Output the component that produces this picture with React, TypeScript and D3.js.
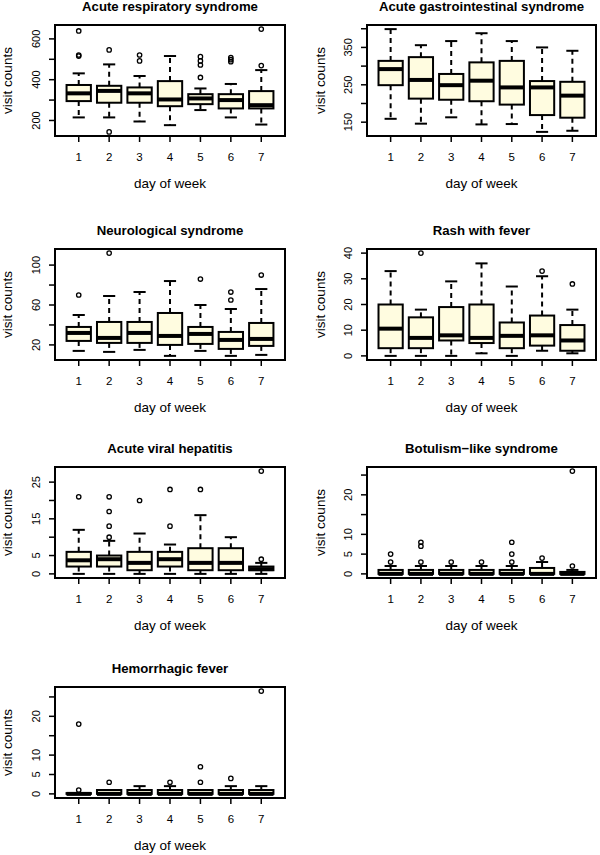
import React from "react";
import * as d3 from "d3";

// ---- data: [lower whisker, Q1, median, Q3, upper whisker] per day ----
const days = [1, 2, 3, 4, 5, 6, 7];
const titles = [
  "Acute respiratory syndrome",
  "Acute gastrointestinal syndrome",
  "Neurological syndrome",
  "Rash with fever",
  "Acute viral hepatitis",
  "Botulism\u2212like syndrome",
  "Hemorrhagic fever",
];

const respStats = [[215, 295, 333, 374, 431], [215, 287, 345, 370, 475], [195, 287, 333, 362, 418], [177, 270, 303, 393, 516], [251, 280, 308, 329, 357], [215, 259, 300, 329, 379], [180, 259, 275, 344, 447]];
const respOut = [[639, 521, 516], [546, 144], [521, 492], [], [513, 492, 472, 411], [508, 498, 488], [648, 469]];

const gastroStats = [[159, 249, 292, 314, 399], [146, 213, 263, 324, 356], [163, 210, 249, 279, 367], [144, 206, 261, 310, 388], [145, 197, 243, 314, 367], [124, 169, 243, 260, 350], [127, 162, 221, 258, 341]];
const gastroOut = [[], [], [], [], [], [], []];

const neuroStats = [[14, 24, 32, 38, 50], [13, 22, 27, 43, 69], [15, 22, 32, 43, 73], [9, 20, 29, 52, 84], [14, 21, 31, 38, 60], [9, 16, 25, 33, 56], [10, 19, 26, 42, 76]];
const neuroOut = [[70], [112], [], [], [86], [73, 65], [90]];

const rashStats = [[0, 3, 10.6, 20, 33], [0, 3, 7, 15, 18], [0, 6, 8, 19, 29], [1, 5, 7, 20, 36], [0, 3, 7.8, 13, 27], [2, 4, 8, 15.7, 31], [1, 2, 6, 12, 18]];
const rashOut = [[], [40], [], [], [], [33], [28]];

const hepStats = [[0, 2, 3.7, 6, 12], [0, 2, 4, 5, 9], [0, 1, 3, 6, 11], [0, 2, 4, 6, 8], [0, 1, 3, 7, 16], [0, 1, 3, 7, 10], [0, 1, 1.3, 2, 3]];
const hepOut = [[21], [21, 17, 13, 10], [20], [23, 13], [23], [], [4, 28]];

const botStats = [[0, 0, 0, 1, 2], [0, 0, 0, 1, 2], [0, 0, 0, 1, 2], [0, 0, 0, 1, 2], [0, 0, 0, 1, 2], [0, 0, 0, 1.5, 3], [0, 0, 0, 0.5, 1]];
const botOut = [[3, 5], [3, 7, 8], [3], [3], [3, 5, 8], [4], [2, 26]];

const hemStats = [[0, 0, 0, 0.2, 0.2], [0, 0, 0, 1, 1], [0, 0, 0, 1, 2], [0, 0, 0, 1, 2], [0, 0, 0, 1, 1], [0, 0, 0, 1, 2], [0, 0, 0, 1, 2]];
const hemOut = [[1, 18], [3], [], [3], [3, 7], [4], [26.5]];

const yTicks = [
  [200, 300, 400, 500, 600],
  [150, 200, 250, 300, 350, 400],
  [20, 40, 60, 80, 100],
  [0, 10, 20, 30, 40],
  [0, 5, 10, 15, 20, 25],
  [0, 5, 10, 15, 20, 25],
  [0, 5, 10, 15, 20, 25],
];
const yLabels = [
  [200, 400, 600],
  [150, 250, 350],
  [20, 60, 100],
  [0, 10, 20, 30, 40],
  [0, 5, 15, 25],
  [0, 5, 10, 20],
  [0, 5, 10, 20],
];

const allStats = [respStats, gastroStats, neuroStats, rashStats, hepStats, botStats, hemStats];
const allOut = [respOut, gastroOut, neuroOut, rashOut, hepOut, botOut, hemOut];

// ---- layout ----
const colX = [[55, 285], [367, 596]];
const rowY = [[25, 136], [249, 360], [467, 578], [687, 798]];
const FILL = "#FFFCE0";
const FONT = "'Liberation Sans', Arial, Helvetica, sans-serif";

function Panel({ idx }: { idx: number }) {
  const [x0, x1] = colX[idx % 2];
  const [y0, y1] = rowY[Math.floor(idx / 2)];
  const stats = allStats[idx];
  const outs = allOut[idx];
  const vals = stats.flat().concat(outs.flat());
  const lo = d3.min(vals)!;
  const hi = d3.max(vals)!;
  const pad = (hi - lo) * 0.04;
  const x = d3.scaleLinear().domain([0.22, 7.78]).range([x0, x1]);
  const y = d3.scaleLinear().domain([lo - pad, hi + pad]).range([y1, y0]);
  const bw = x(0.4) - x(0);
  const cw = x(0.2) - x(0);
  const cx = (x0 + x1) / 2;
  const cy = (y0 + y1) / 2;
  const yl = idx % 2 === 0 ? 7 : 320;
  return (
    <g>
      <text x={cx} y={y0 - 14} textAnchor="middle" fontWeight="bold" fontSize={13.2} fontFamily={FONT}>
        {titles[idx]}
      </text>
      {days.map((d, i) => {
        const [wl, q1, md, q3, wh] = stats[i];
        const px = x(d);
        return (
          <g key={d}>
            <line x1={px} x2={px} y1={y(q3)} y2={y(wh)} stroke="#000" strokeWidth={2} strokeDasharray="5,4" />
            <line x1={px} x2={px} y1={y(q1)} y2={y(wl)} stroke="#000" strokeWidth={2} strokeDasharray="5,4" />
            <line x1={px - cw} x2={px + cw} y1={y(wh)} y2={y(wh)} stroke="#000" strokeWidth={2} />
            <line x1={px - cw} x2={px + cw} y1={y(wl)} y2={y(wl)} stroke="#000" strokeWidth={2} />
            <rect x={px - bw} y={y(q3)} width={bw * 2} height={Math.max(0, y(q1) - y(q3))} fill={FILL} stroke="#000" strokeWidth={2} />
            <line x1={px - bw} x2={px + bw} y1={y(md)} y2={y(md)} stroke="#000" strokeWidth={4} />
            {outs[i].map((o, k) => (
              <circle key={k} cx={px} cy={y(o)} r={2.2} fill="none" stroke="#000" strokeWidth={1.3} />
            ))}
          </g>
        );
      })}
      <rect x={x0} y={y0} width={x1 - x0} height={y1 - y0} fill="none" stroke="#000" strokeWidth={2} />
      {/* x axis */}
      {days.map((d) => (
        <g key={d}>
          <line x1={x(d)} x2={x(d)} y1={y1} y2={y1 + 6} stroke="#000" strokeWidth={1.5} />
          <text x={x(d)} y={y1 + 25} textAnchor="middle" fontSize={11.5} fontFamily={FONT}>
            {d}
          </text>
        </g>
      ))}
      {/* y axis */}
      {yTicks[idx].map((t) => (
        <line key={t} x1={x0 - 6} x2={x0} y1={y(t)} y2={y(t)} stroke="#000" strokeWidth={1.5} />
      ))}
      {yLabels[idx].map((t) => (
        <text
          key={t}
          transform={`translate(${x0 - 15},${y(t)}) rotate(-90)`}
          textAnchor="middle"
          fontSize={11}
          fontFamily={FONT}
        >
          {t}
        </text>
      ))}
      <text x={cx} y={y1 + 52} textAnchor="middle" fontSize={13.5} fontFamily={FONT}>
        day of week
      </text>
      <text transform={`translate(${yl + 5},${cy}) rotate(-90)`} textAnchor="middle" fontSize={13.5} fontFamily={FONT}>
        visit counts
      </text>
    </g>
  );
}

export default function App() {
  return (
    <svg width={600} height={855} style={{ position: "absolute", left: 0, top: 0, background: "#fff" }}>
      {titles.map((_, i) => (
        <Panel key={i} idx={i} />
      ))}
    </svg>
  );
}
